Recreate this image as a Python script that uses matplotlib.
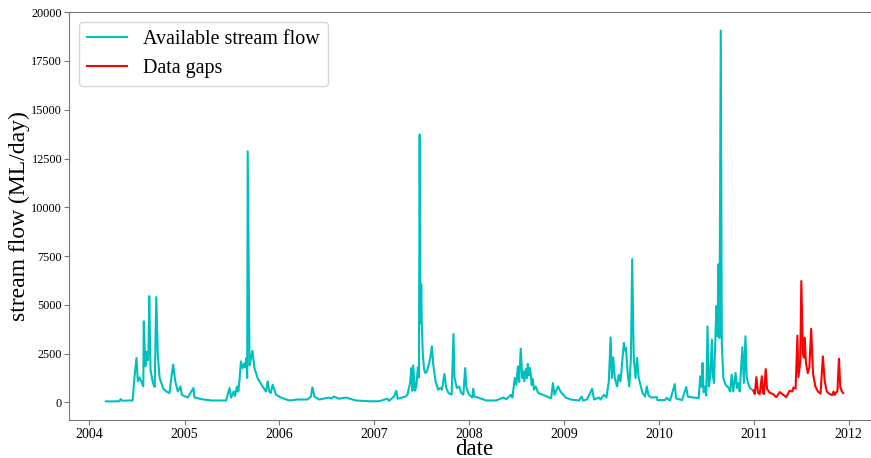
import pandas as pd
import matplotlib
matplotlib.use('Agg')
import matplotlib.pyplot as plt
import matplotlib.dates as mdates

plt.rcParams['font.family'] = ['Liberation Serif', 'DejaVu Serif']

# recorded daily flow (ML/day), sampled at turning points
flow_dates = [
    '2004-03-04', '2004-03-20', '2004-04-25', '2004-04-30', '2004-05-06', '2004-06-15',
    '2004-06-22', '2004-06-30', '2004-07-05', '2004-07-12', '2004-07-18', '2004-07-26',
    '2004-07-28', '2004-08-03', '2004-08-07', '2004-08-12', '2004-08-15', '2004-08-18',
    '2004-08-23', '2004-09-01', '2004-09-08', '2004-09-14', '2004-09-20', '2004-09-27',
    '2004-10-10', '2004-10-23', '2004-11-04', '2004-11-11', '2004-11-18', '2004-11-26',
    '2004-12-06', '2004-12-16', '2004-12-21', '2005-01-13', '2005-02-04', '2005-02-08',
    '2005-03-06', '2005-04-14', '2005-06-10', '2005-06-16', '2005-06-23', '2005-06-29',
    '2005-07-09', '2005-07-14', '2005-07-22', '2005-07-27', '2005-07-31', '2005-08-06',
    '2005-08-12', '2005-08-19', '2005-08-22', '2005-08-27', '2005-08-30', '2005-09-01',
    '2005-09-08', '2005-09-14', '2005-09-19', '2005-09-27', '2005-10-09', '2005-10-28',
    '2005-11-10', '2005-11-17', '2005-11-23', '2005-11-29', '2005-12-06', '2005-12-19',
    '2006-01-07', '2006-01-19', '2006-02-08', '2006-03-11', '2006-04-19', '2006-05-02',
    '2006-05-08', '2006-05-16', '2006-06-03', '2006-07-11', '2006-07-20', '2006-07-30',
    '2006-08-18', '2006-09-14', '2006-10-23', '2006-12-13', '2007-01-20', '2007-02-21',
    '2007-02-27', '2007-03-18', '2007-03-27', '2007-04-01', '2007-05-01', '2007-05-09',
    '2007-05-19', '2007-05-24', '2007-05-28', '2007-05-31', '2007-06-07', '2007-06-12',
    '2007-06-18', '2007-06-22', '2007-06-25', '2007-06-28', '2007-07-01', '2007-07-03',
    '2007-07-07', '2007-07-12', '2007-07-17', '2007-07-23', '2007-07-30', '2007-08-05',
    '2007-08-11', '2007-08-16', '2007-08-25', '2007-09-04', '2007-09-13', '2007-09-19',
    '2007-09-28', '2007-10-05', '2007-10-14', '2007-10-26', '2007-11-02', '2007-11-06',
    '2007-11-15', '2007-11-24', '2007-12-02', '2007-12-10', '2007-12-17', '2007-12-22',
    '2008-01-01', '2008-01-14', '2008-01-17', '2008-01-22', '2008-02-05', '2008-03-07',
    '2008-04-14', '2008-05-12', '2008-05-24', '2008-06-10', '2008-06-16', '2008-06-25',
    '2008-07-01', '2008-07-07', '2008-07-12', '2008-07-18', '2008-07-24', '2008-07-27',
    '2008-08-01', '2008-08-06', '2008-08-11', '2008-08-14', '2008-08-19', '2008-08-23',
    '2008-08-29', '2008-09-02', '2008-09-07', '2008-09-14', '2008-09-23', '2008-10-12',
    '2008-11-04', '2008-11-12', '2008-11-19', '2008-11-25', '2008-12-09', '2008-12-18',
    '2009-01-07', '2009-01-26', '2009-02-27', '2009-03-09', '2009-03-15', '2009-03-30',
    '2009-04-19', '2009-04-26', '2009-05-15', '2009-05-21', '2009-06-03', '2009-06-13',
    '2009-06-22', '2009-06-29', '2009-07-04', '2009-07-09', '2009-07-15', '2009-07-24',
    '2009-07-30', '2009-08-06', '2009-08-12', '2009-08-19', '2009-08-24', '2009-08-27',
    '2009-09-03', '2009-09-09', '2009-09-15', '2009-09-20', '2009-09-26', '2009-10-03',
    '2009-10-09', '2009-10-15', '2009-10-22', '2009-10-30', '2009-11-09', '2009-11-15',
    '2009-11-22', '2009-12-03', '2009-12-24', '2009-12-26', '2010-01-24', '2010-01-30',
    '2010-02-13', '2010-03-03', '2010-03-08', '2010-03-31', '2010-04-16', '2010-04-22',
    '2010-05-13', '2010-06-03', '2010-06-09', '2010-06-14', '2010-06-18', '2010-06-22',
    '2010-06-28', '2010-07-02', '2010-07-07', '2010-07-12', '2010-07-17', '2010-07-24',
    '2010-07-27', '2010-08-01', '2010-08-10', '2010-08-14', '2010-08-18', '2010-08-22',
    '2010-08-27', '2010-08-31', '2010-09-06', '2010-09-15', '2010-09-26', '2010-10-02',
    '2010-10-08', '2010-10-14', '2010-10-23', '2010-10-28', '2010-11-02', '2010-11-08',
    '2010-11-18', '2010-11-24', '2010-11-30', '2010-12-05', '2010-12-10', '2010-12-17',
    '2010-12-31',
]
flow_values = [
    60, 50, 60, 170, 90, 100,
    1280, 2280, 1080, 1280, 1080, 820,
    4150, 1850, 2600, 2150, 2500, 5450,
    1650, 1000, 800, 5400, 2400, 1250,
    740, 560, 480, 1250, 1940, 1090,
    560, 820, 390, 250, 740, 260,
    170, 100, 100, 390, 740, 250,
    560, 330, 820, 560, 1090, 2100,
    1760, 2000, 1800, 2280, 1250, 12870,
    1900, 2280, 2650, 1760, 1250, 820,
    560, 1080, 560, 480, 910, 390,
    250, 190, 100, 150, 150, 300,
    770, 290, 150, 250, 200, 300,
    190, 250, 100, 60, 60, 190,
    80, 300, 600, 190, 300, 400,
    990, 1760, 600, 1900, 600, 800,
    1800, 1280, 13730, 4060, 6050, 4060,
    2500, 1700, 1500, 1600, 1940, 2300,
    2880, 1960, 1080, 650, 750, 650,
    1460, 760, 480, 400, 3510, 1280,
    740, 820, 480, 400, 1760, 740,
    400, 250, 700, 300, 250, 100,
    100, 250, 170, 390, 250, 1250,
    900, 1850, 1050, 2760, 1250, 1600,
    1080, 1700, 1250, 1970, 1400, 1760,
    900, 1200, 650, 820, 480, 390,
    250, 220, 990, 390, 820, 560,
    250, 150, 100, 300, 100, 150,
    700, 150, 250, 150, 390, 250,
    1080, 3340, 1250, 2310, 1250, 820,
    1420, 1080, 2020, 3050, 2650, 2800,
    1420, 820, 2280, 7350, 2280, 1250,
    2280, 1250, 900, 480, 300, 820,
    360, 250, 270, 120, 120, 230,
    100, 940, 200, 120, 790, 300,
    250, 230, 1340, 800, 2020, 520,
    800, 350, 3900, 820, 1250, 3220,
    1420, 1000, 4940, 3400, 7080, 3300,
    19060, 3000, 1240, 900, 740, 560,
    1420, 560, 1510, 740, 1000, 560,
    2830, 1000, 3390, 1280, 1000, 740,
    600,
]

# 2011 flows filled in for the missing record
gap_dates = [
    '2010-12-31', '2011-01-05', '2011-01-11', '2011-01-17', '2011-01-24', '2011-02-01',
    '2011-02-05', '2011-02-09', '2011-02-16', '2011-02-21', '2011-03-03', '2011-03-16',
    '2011-03-29', '2011-04-11', '2011-04-21', '2011-05-06', '2011-05-19', '2011-05-29',
    '2011-06-03', '2011-06-11', '2011-06-18', '2011-06-22', '2011-06-29', '2011-07-03',
    '2011-07-09', '2011-07-13', '2011-07-16', '2011-07-21', '2011-07-28', '2011-08-03',
    '2011-08-10', '2011-08-17', '2011-08-26', '2011-09-05', '2011-09-15', '2011-09-24',
    '2011-10-01', '2011-10-09', '2011-10-20', '2011-10-30', '2011-11-04', '2011-11-08',
    '2011-11-14', '2011-11-19', '2011-11-25', '2011-11-30', '2011-12-06', '2011-12-11',
]
gap_values = [
    600, 430, 1300, 500, 430, 1340,
    500, 430, 1710, 700, 500, 430,
    270, 530, 430, 270, 600, 560,
    770, 700, 3430, 1300, 2100, 6220,
    2500, 2300, 3310, 2000, 1500, 1800,
    3770, 1500, 820, 560, 450, 2360,
    1100, 560, 430, 380, 560, 380,
    520, 560, 2240, 800, 560, 480,
]

fig = plt.figure(figsize=(8.71, 4.58), dpi=100)
ax = fig.add_axes([69 / 871, 38 / 458, 811 / 871, 408 / 458])

ax.plot(pd.to_datetime(flow_dates), flow_values, color='c', lw=1.5, label='Available stream flow')
ax.plot(pd.to_datetime(gap_dates), gap_values, color='r', lw=1.5, label='Data gaps')

ax.xaxis.set_major_locator(mdates.YearLocator())
ax.xaxis.set_major_formatter(mdates.DateFormatter('%Y'))
ax.set_yticks(range(0, 20001, 2500))

ax.set_xlabel('date', fontsize=16.5, labelpad=-1)
ax.set_ylabel('stream flow (ML/day)', fontsize=17, labelpad=1)
ax.tick_params(axis='x', labelsize=10, pad=2, color='#777777')
ax.tick_params(axis='y', labelsize=8.8, pad=1.5, color='#777777')
for side in ax.spines.values():
    side.set_color('#777777')
ax.spines['right'].set_visible(False)

ax.legend(loc='upper left', fontsize=14.4)

fig.savefig('out.png', dpi=100)
